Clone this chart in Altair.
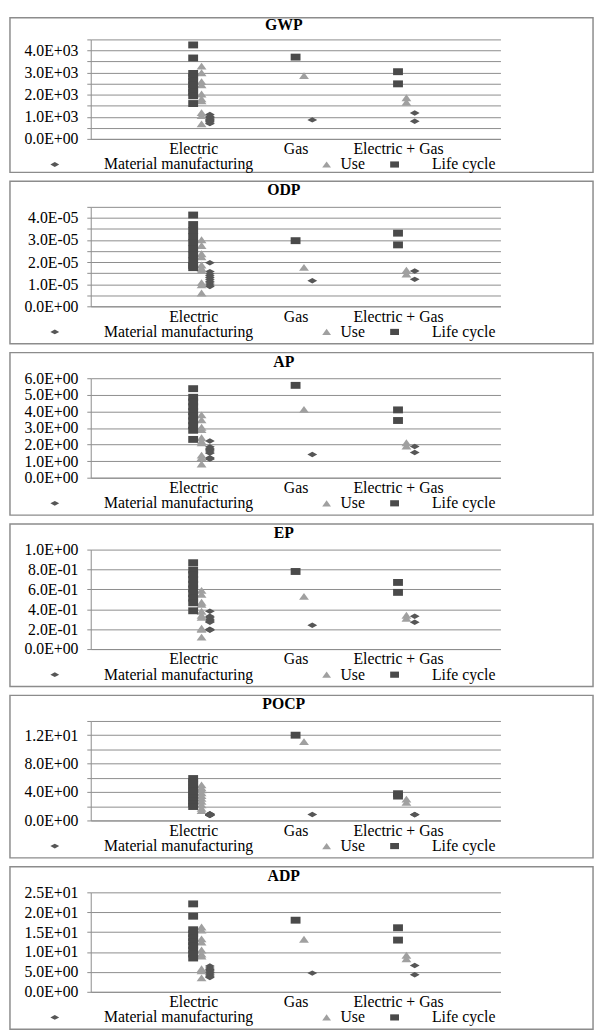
import json
import altair as alt
import pandas as pd

CATEGORIES = ["Electric", "Gas", "Electric + Gas"]
SERIES = ["Material manufacturing", "Use", "Life cycle"]
INDICATORS = ["GWP", "ODP", "AP", "EP", "POCP", "ADP"]

# each tuple: (Electric values, Gas values, Electric + Gas values)
GWP_MM = ([1100, 1020, 980, 950, 900, 870, 830, 790, 720, 690], [860], [1170, 800])
GWP_USE = ([3290, 2990, 2590, 2450, 2030, 1810, 1720, 1190, 1060, 680], [2860], [1860, 1660])
GWP_LC = ([4250, 3660, 2960, 2800, 2620, 2450, 2280, 2110, 1950, 1600], [3700], [3040, 2490])

ODP_MM = ([1.97e-5, 1.57e-5, 1.47e-5, 1.38e-5, 1.30e-5, 1.22e-5, 1.14e-5, 1.06e-5, 0.97e-5, 0.90e-5], [1.16e-5], [1.60e-5, 1.22e-5])
ODP_USE = ([3.01e-5, 2.75e-5, 2.38e-5, 2.24e-5, 1.87e-5, 1.72e-5, 1.63e-5, 1.07e-5, 0.97e-5, 0.60e-5], [1.76e-5], [1.64e-5, 1.46e-5])
ODP_LC = ([4.13e-5, 3.70e-5, 3.42e-5, 3.15e-5, 2.88e-5, 2.60e-5, 2.33e-5, 2.06e-5, 1.85e-5, 1.75e-5], [2.97e-5], [3.31e-5, 2.78e-5])

AP_MM = ([2.21, 1.86, 1.78, 1.70, 1.62, 1.55, 1.48, 1.20, 1.16, 1.12], [1.40], [1.88, 1.52])
AP_USE = ([3.79, 3.49, 3.04, 2.90, 2.41, 2.20, 2.10, 1.36, 1.22, 0.83], [4.12], [2.11, 1.91])
AP_LC = ([5.37, 4.85, 4.57, 4.28, 3.99, 3.71, 3.43, 3.14, 2.86, 2.31], [5.57], [4.09, 3.45])

EP_MM = ([0.38, 0.33, 0.315, 0.30, 0.29, 0.28, 0.27, 0.20, 0.195, 0.19], [0.24], [0.33, 0.27])
EP_USE = ([0.59, 0.55, 0.47, 0.45, 0.38, 0.34, 0.32, 0.21, 0.20, 0.12], [0.53], [0.34, 0.31])
EP_LC = ([0.868, 0.795, 0.748, 0.700, 0.652, 0.605, 0.558, 0.512, 0.465, 0.385], [0.78], [0.67, 0.57])

POCP_MM = ([0.95, 0.90, 0.88, 0.85, 0.82, 0.80, 0.78, 0.75, 0.72, 0.70], [0.83], [0.83, 0.80])
POCP_USE = ([5.0, 4.6, 4.3, 3.9, 3.5, 3.1, 2.7, 2.2, 1.7, 1.4], [11.1], [3.0, 2.55])
POCP_LC = ([5.9, 5.45, 5.0, 4.55, 4.1, 3.65, 3.2, 2.75, 2.35, 1.96], [12.0], [3.76, 3.43])

ADP_MM = ([6.5, 6.0, 5.6, 5.3, 5.0, 4.8, 4.5, 4.2, 3.9, 3.6], [4.7], [6.6, 4.3])
ADP_USE = ([16.3, 15.5, 13.3, 12.5, 10.5, 9.5, 9.0, 5.8, 5.3, 3.5], [13.2], [9.2, 8.3])
ADP_LC = ([22.1, 19.0, 15.6, 14.6, 13.6, 12.6, 11.6, 10.5, 9.5, 8.5], [18.0], [16.1, 13.0])

PANEL_DATA = {
    "GWP": (GWP_MM, GWP_USE, GWP_LC),
    "ODP": (ODP_MM, ODP_USE, ODP_LC),
    "AP": (AP_MM, AP_USE, AP_LC),
    "EP": (EP_MM, EP_USE, EP_LC),
    "POCP": (POCP_MM, POCP_USE, POCP_LC),
    "ADP": (ADP_MM, ADP_USE, ADP_LC),
}

# y axis: (max, gridline step, label step)
Y_AXES = {
    "GWP": (4500, 500, 1000),
    "ODP": (4.5e-5, 0.5e-5, 1e-5),
    "AP": (6, 1, 1),
    "EP": (1.0, 0.2, 0.2),
    "POCP": (14, 2, 4),
    "ADP": (25, 5, 5),
}

COLORS = ["#565656", "#a0a0a0", "#4a4a4a"]
SHAPES = [
    "M-1,0L0,-0.55L1,0L0,0.55Z",
    "M-1,0.7L0,-0.7L1,0.7Z",
    "M-1,-0.7H1V0.7H-1Z",
]
OFF_USE = 0.082
OFF_MM = 0.163

PLOT_W = 416
PLOT_H = 101
GRAY = "#8c8c8c"
FONT = "Liberation Serif"
NB = "\u00a0"
ZW = "\u200b"

# legend label spacing (leading, trailing non-breaking spaces) to mimic the wide legend
LEGEND_PAD = {
    "Material manufacturing": (9, 14),
    "Use": (0, 3),
    "Life cycle": (6, 0),
}
legend_expr = " : ".join(
    f"datum.label === '{k}' ? '{ZW}{NB * a}{k}{NB * b}{ZW}'" for k, (a, b) in LEGEND_PAD.items()
) + " : datum.label"


def build_panel(i, name):
    rows = []
    for series, vals in zip(SERIES, PANEL_DATA[name]):
        for cat, lst in zip(CATEGORIES, vals):
            for v in lst:
                rows.append({"category": cat, "series": series, "value": v})
    df = pd.DataFrame(rows)
    ymax, gstep, lstep = Y_AXES[name]
    n = int(round(ymax / gstep))
    grid_vals = [round(k * gstep, 12) for k in range(n + 1)]
    label_expr = (
        f"(abs(datum.value / {lstep} - round(datum.value / {lstep})) < 1e-6) ? "
        "replace(replace(upper(format(datum.value, '.1e')), 'E+', 'E+0'), 'E-', 'E-0') : ''"
    )
    cats_js = json.dumps(CATEGORIES)
    legend = alt.Legend(
        title=None, orient="none", legendX=-44.5, legendY=PLOT_H + 18,
        direction="horizontal", labelFont=FONT, labelFontSize=16,
        labelColor="black", labelLimit=600, labelOffset=6, columnPadding=10,
        symbolSize=80, symbolStrokeWidth=0, labelExpr=legend_expr,
    )
    points = alt.Chart(df).transform_calculate(
        xpos=f"indexof({cats_js}, datum.category) + 1 + "
             f"(datum.series === 'Use' ? {OFF_USE} : datum.series === 'Material manufacturing' ? {OFF_MM} : 0)"
    ).mark_point(filled=True, size=100, opacity=1).encode(
        x=alt.X("xpos:Q", scale=alt.Scale(domain=[0, 4], nice=False, zero=False),
                axis=alt.Axis(values=[1, 2, 3], labelExpr=f"{cats_js}[round(datum.value) - 1]",
                              title=None, grid=False, ticks=False, labelPadding=2,
                              labelFlush=False, labelOverlap=False)),
        y=alt.Y("value:Q", scale=alt.Scale(domain=[0, ymax], nice=False),
                axis=alt.Axis(values=grid_vals, labelExpr=label_expr, title=None,
                              grid=True, tickSize=4, labelPadding=9, labelOverlap=False)),
        color=alt.Color("series:N", scale=alt.Scale(domain=SERIES, range=COLORS), legend=legend),
        shape=alt.Shape("series:N", scale=alt.Scale(domain=SERIES, range=SHAPES), legend=legend),
    )
    if i == 0:
        f_top, f_bot, t_off = -22, PLOT_H + 34, -16
    else:
        f_top, f_bot, t_off = -26, PLOT_H + 38, -18
    frame = alt.Chart(pd.DataFrame({"f": [0]})).mark_rect(
        fill="transparent", stroke=GRAY, strokeWidth=1.5
    ).encode(
        x=alt.value(-82), x2=alt.value(PLOT_W + 94),
        y=alt.value(f_top), y2=alt.value(f_bot),
    )
    return alt.layer(frame, points).properties(
        width=PLOT_W, height=PLOT_H,
        title=alt.TitleParams(text=name, offset=t_off, frame="group", dx=-12),
    )


panels = [build_panel(i, name) for i, name in enumerate(INDICATORS)]

chart = alt.vconcat(*panels, spacing=5, padding=0, background="white").resolve_scale(
    x="independent", y="independent", color="independent", shape="independent"
).resolve_legend(color="independent", shape="independent").configure_view(
    stroke="transparent"
).configure_axis(
    labelFont=FONT, labelFontSize=16, labelColor="black",
    domainColor=GRAY, tickColor=GRAY, gridColor=GRAY, gridOpacity=1,
).configure_title(
    font=FONT, fontSize=16, fontWeight="bold", color="black"
)

chart.save("out.html", embed_options={"renderer": "svg", "actions": False})
